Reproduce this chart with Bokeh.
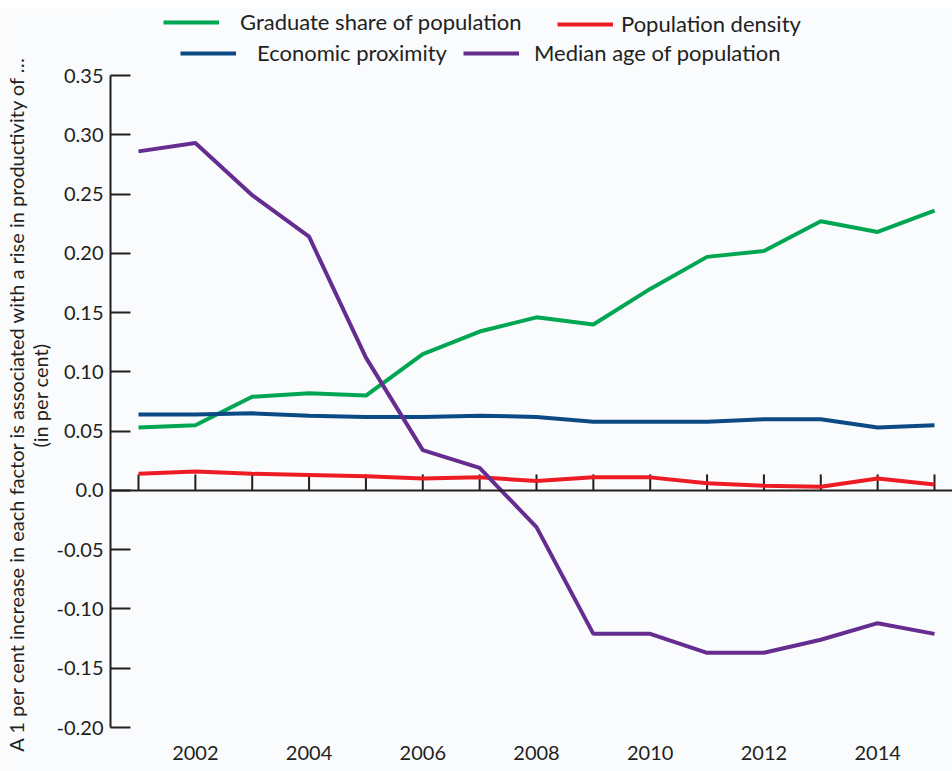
from bokeh.plotting import figure
from bokeh.models import (Range1d, FixedTicker, LinearAxis, Span, Legend, LegendItem,
                          NumeralTickFormatter, Title)
from bokeh.embed import file_html
from bokeh.resources import INLINE

years = list(range(2001, 2016))
graduate_share = [0.053, 0.055, 0.079, 0.082, 0.080, 0.115, 0.134, 0.146, 0.140,
                  0.170, 0.197, 0.202, 0.227, 0.218, 0.236]
economic_proximity = [0.064, 0.064, 0.065, 0.063, 0.062, 0.062, 0.063, 0.062, 0.058,
                      0.058, 0.058, 0.060, 0.060, 0.053, 0.055]
population_density = [0.014, 0.016, 0.014, 0.013, 0.012, 0.010, 0.011, 0.008, 0.011,
                      0.011, 0.006, 0.004, 0.003, 0.010, 0.005]
median_age = [0.286, 0.293, 0.249, 0.214, 0.112, 0.034, 0.019, -0.031, -0.121,
              -0.121, -0.137, -0.137, -0.126, -0.112, -0.121]

y_ticks = [-0.20, -0.15, -0.10, -0.05, 0.0, 0.05, 0.10, 0.15, 0.20, 0.25, 0.30, 0.35]
y_tick_labels = ["-0.20", "-0.15", "-0.10", "-0.05", "0.0", "0.05", "0.10", "0.15",
                 "0.20", "0.25", "0.30", "0.35"]
x_label_years = [2002, 2004, 2006, 2008, 2010, 2012, 2014]

series_names = ["Graduate share of population", "Population density",
                "Economic proximity", "Median age of population"]
y_title_line1 = "A 1 per cent increase in each factor is associated with a rise in productivity of \u2026"
y_title_line2 = "(in per cent)"

GREEN = "#00A651"
RED = "#ED1C24"
BLUE = "#0B4A85"
PURPLE = "#662D91"
INK = "#231F20"
BG = "#F9FBFD"
FONT = "Lato"

p = figure(width=952, height=763, output_backend="svg", toolbar_location=None,
           x_range=Range1d(2000.5076, 2015.3166), y_range=Range1d(-0.20, 0.40652),
           x_axis_location=None, y_axis_location=None,
           min_border_left=110, min_border_right=0, min_border_top=0,
           min_border_bottom=44, background_fill_color=BG, border_fill_color=BG,
           outline_line_color=None)
p.margin = (8, 0, 0, 0)
p.xgrid.visible = False
p.ygrid.visible = False

# Left axis
yaxis = LinearAxis(ticker=FixedTicker(ticks=y_ticks), bounds=(-0.20, 0.35),
                   formatter=NumeralTickFormatter(format="0.00"))
yaxis.major_label_overrides = {t: l for t, l in zip(y_ticks, y_tick_labels)}
yaxis.axis_line_color = INK
yaxis.axis_line_width = 2
yaxis.major_tick_line_color = INK
yaxis.major_tick_line_width = 2
yaxis.major_tick_in = 20
yaxis.major_tick_out = 0
yaxis.minor_tick_line_color = None
yaxis.major_label_standoff = 7
yaxis.major_label_text_font = FONT
yaxis.major_label_text_font_size = "20px"
yaxis.major_label_text_color = INK
p.add_layout(yaxis, "left")

# y-axis title, two lines
t2 = Title(text=y_title_line2, align="right", offset=335, standoff=4,
           text_font=FONT, text_font_size="20px", text_font_style="normal",
           text_color=INK)
t1 = Title(text=y_title_line1, align="right", offset=47, standoff=-8,
           text_font=FONT, text_font_size="20px", text_font_style="normal",
           text_color=INK)
p.add_layout(t2, "left")
p.add_layout(t1, "left")

# Bottom axis: labels only
xaxis = LinearAxis(ticker=FixedTicker(ticks=x_label_years))
xaxis.major_label_overrides = {y: str(y) for y in x_label_years}
xaxis.axis_line_color = None
xaxis.major_tick_line_color = None
xaxis.minor_tick_line_color = None
xaxis.major_tick_out = 0
xaxis.major_tick_in = 0
xaxis.major_label_standoff = 18
xaxis.major_label_text_font = FONT
xaxis.major_label_text_font_size = "20px"
xaxis.major_label_text_color = INK
p.add_layout(xaxis, "below")

# zero line with year ticks
p.add_layout(Span(location=0, dimension="width", line_color=INK, line_width=2))
tick_h = 0.0135
p.segment(x0=years, y0=[0] * len(years), x1=years, y1=[tick_h] * len(years),
          line_color=INK, line_width=2)

r_green = p.line(years, graduate_share, line_color=GREEN, line_width=4)
r_blue = p.line(years, economic_proximity, line_color=BLUE, line_width=4)
r_red = p.line(years, population_density, line_color=RED, line_width=4)
r_purple = p.line(years, median_age, line_color=PURPLE, line_width=4)

def add_legend(name, renderer, loc, standoff):
    lg = Legend(items=[LegendItem(label=name, renderers=[renderer])], location=loc,
                orientation="horizontal", glyph_width=56, glyph_height=20,
                label_standoff=standoff, padding=0, margin=0, spacing=0,
                border_line_color=None, background_fill_alpha=0,
                label_text_font=FONT, label_text_font_size="22px",
                label_text_color=INK, label_height=20)
    p.add_layout(lg, "center")

add_legend(series_names[0], r_green, (53, 692), 21)
add_legend(series_names[1], r_red, (447, 690), 8)
add_legend(series_names[2], r_blue, (70, 661), 21)
add_legend(series_names[3], r_purple, (353, 661), 15)

open("out.html", "w").write(file_html(p, INLINE))
